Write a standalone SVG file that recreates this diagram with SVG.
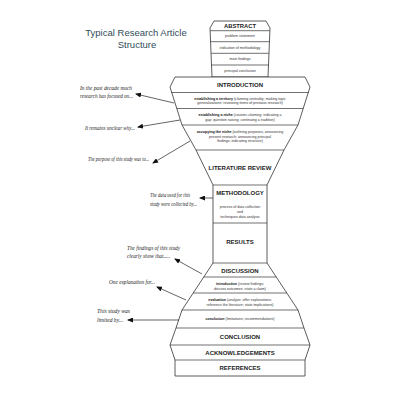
<svg xmlns="http://www.w3.org/2000/svg" width="400" height="400" viewBox="0 0 400 400">
<defs>
<marker id="ah" markerUnits="userSpaceOnUse" markerWidth="6" markerHeight="5" refX="5" refY="2.5" orient="auto">
<path d="M0,0 L6,2.5 L0,5 Z" fill="#111"/>
</marker>
<style>
.sh{fill:#fff;stroke:#333;stroke-width:0.8;stroke-linejoin:round}
.sep{stroke:#333;stroke-width:0.7}
.h{font-family:"Liberation Sans",Arial,sans-serif;font-weight:bold;font-size:6px;fill:#222;text-anchor:middle}
.s{font-family:"Liberation Sans",Arial,sans-serif;font-size:3.6px;fill:#333;text-anchor:middle}
.s tspan.b{font-weight:bold;fill:#111}
.a{font-family:"Liberation Serif","Times New Roman",serif;font-style:italic;font-size:5.8px;fill:#222}
.t{font-family:"Liberation Sans",Arial,sans-serif;font-size:9.5px;fill:#2f4c58;text-anchor:middle}
.c{stroke:#222;stroke-width:0.7;fill:none;marker-end:url(#ah)}
</style>
</defs>
<rect width="400" height="400" fill="#fff"/>
<g id="title">
<text class="t" x="136" y="36">Typical Research Article</text>
<text class="t" x="137" y="48">Structure</text>
</g>
<g id="abstract">
<path class="sh" d="M214,21 L266,21 L270,28 L268,77 L212,77 L210,28 Z"/>
<line class="sep" x1="210.2" y1="30.7" x2="269.8" y2="30.7"/>
<line class="sep" x1="210.6" y1="41.7" x2="269.4" y2="41.7"/>
<line class="sep" x1="211.1" y1="53.3" x2="268.9" y2="53.3"/>
<line class="sep" x1="211.5" y1="65" x2="268.5" y2="65"/>
<text class="h" x="240" y="27.8" style="font-size:5.8px">ABSTRACT</text>
<text class="s" x="240" y="37.4">problem statement</text>
<text class="s" x="240" y="48.8">indication of methodology</text>
<text class="s" x="240" y="60.4">main findings</text>
<text class="s" x="240" y="72">principal conclusion</text>
</g>
<g id="body">
<path class="sh" d="M175,77 L305,77 L310,87 L298,125 L284,150 L267,185 L267,263 L298,310 L304,328 L310,345 L305,360 L305,376 L175,376 L175,360 L170,345 L176,328 L182,310 L213,263 L213,185 L196,150 L182,125 L170,87 Z"/>
</g>
<g id="introduction">
<line class="sep" x1="171.6" y1="92.5" x2="308.4" y2="92.5"/>
<text class="h" x="240" y="87">INTRODUCTION</text>
</g>
<g id="territory">
<line class="sep" x1="176.8" y1="108.5" x2="303.2" y2="108.5"/>
<text class="s" x="240" y="99.5"><tspan class="b">establishing a territory</tspan> (claiming centrality; making topic</text>
<text class="s" x="240" y="104.3">generalizations; reviewing items of previous research)</text>
</g>
<g id="niche">
<line class="sep" x1="182" y1="125" x2="298" y2="125"/>
<text class="s" x="240" y="116"><tspan class="b">establishing a niche</tspan> (counter-claiming; indicating a</text>
<text class="s" x="240" y="120.6">gap; question raising; continuing a tradition)</text>
</g>
<g id="occupying">
<line class="sep" x1="196" y1="150" x2="284" y2="150"/>
<text class="s" x="240" y="133.4"><tspan class="b">occupying the niche</tspan> (outlining purposes, announcing</text>
<text class="s" x="240" y="137.9">present research; announcing principal</text>
<text class="s" x="240" y="142.4">findings; indicating structure)</text>
</g>
<g id="literature">
<line class="sep" x1="213" y1="185" x2="267" y2="185"/>
<text class="h" x="240" y="170">LITERATURE REVIEW</text>
</g>
<g id="methodology">
<line class="sep" x1="213" y1="223" x2="267" y2="223"/>
<text class="h" x="240" y="195">METHODOLOGY</text>
<text class="s" x="240" y="208.3">process of data collection</text>
<text class="s" x="240" y="213.1">and</text>
<text class="s" x="240" y="218">techniques data analysis</text>
</g>
<g id="results">
<line class="sep" x1="213" y1="263" x2="267" y2="263"/>
<text class="h" x="240" y="244">RESULTS</text>
</g>
<g id="discussion">
<line class="sep" x1="203.8" y1="277" x2="276.2" y2="277"/>
<text class="h" x="240" y="272.5">DISCUSSION</text>
</g>
<g id="disc-intro">
<line class="sep" x1="193.2" y1="293" x2="286.8" y2="293"/>
<text class="s" x="240" y="285.3"><tspan class="b">introduction</tspan> (review findings;</text>
<text class="s" x="240" y="290">discuss outcomes; state a claim)</text>
</g>
<g id="evaluation">
<line class="sep" x1="182" y1="310" x2="298" y2="310"/>
<text class="s" x="240" y="301"><tspan class="b">evaluation</tspan> (analyze; offer explanations;</text>
<text class="s" x="240" y="305.5">reference the literature; state implications)</text>
</g>
<g id="disc-conclusion">
<line class="sep" x1="176" y1="328" x2="304" y2="328"/>
<text class="s" x="240" y="319.6"><tspan class="b">conclusion</tspan> (limitations; recommendations)</text>
</g>
<g id="conclusion">
<line class="sep" x1="170" y1="345" x2="310" y2="345"/>
<text class="h" x="240" y="339">CONCLUSION</text>
</g>
<g id="acknowledgements">
<line class="sep" x1="175" y1="360" x2="305" y2="360"/>
<text class="h" x="240" y="354.5">ACKNOWLEDGEMENTS</text>
</g>
<g id="references">
<text class="h" x="240" y="370.3">REFERENCES</text>
</g>
<g id="annotations">
<text class="a" x="80" y="89.5" textLength="52" lengthAdjust="spacingAndGlyphs">In the past decade much</text>
<text class="a" x="80" y="97.5" textLength="53" lengthAdjust="spacingAndGlyphs">research has focused on...</text>
<text class="a" x="85" y="129.5" textLength="50" lengthAdjust="spacingAndGlyphs">It remains unclear why...</text>
<text class="a" x="88" y="160.5" textLength="61" lengthAdjust="spacingAndGlyphs">The purpose of this study was to...</text>
<text class="a" x="150" y="197" textLength="40" lengthAdjust="spacingAndGlyphs">The data used for this</text>
<text class="a" x="150" y="205.5" textLength="47" lengthAdjust="spacingAndGlyphs">study were collected by...</text>
<text class="a" x="127" y="249.5" textLength="53" lengthAdjust="spacingAndGlyphs">The findings of this study</text>
<text class="a" x="127" y="258" textLength="43" lengthAdjust="spacingAndGlyphs">clearly show that.....</text>
<text class="a" x="109" y="283.5" textLength="46" lengthAdjust="spacingAndGlyphs">One explanation for...</text>
<text class="a" x="97" y="312.5" textLength="33" lengthAdjust="spacingAndGlyphs">This study was</text>
<text class="a" x="97" y="322" textLength="26" lengthAdjust="spacingAndGlyphs">limited by...</text>
</g>
<g id="connectors">
<line class="c" x1="174" y1="103" x2="136" y2="94"/>
<line class="c" x1="180" y1="120" x2="138" y2="127"/>
<line class="c" x1="190" y1="141" x2="153" y2="163"/>
<line class="c" x1="213" y1="198" x2="200" y2="198"/>
<line class="c" x1="202" y1="274" x2="175" y2="259"/>
<line class="c" x1="186" y1="300" x2="157" y2="287"/>
<line class="c" x1="179" y1="320" x2="128" y2="320"/>
</g>
</svg>
